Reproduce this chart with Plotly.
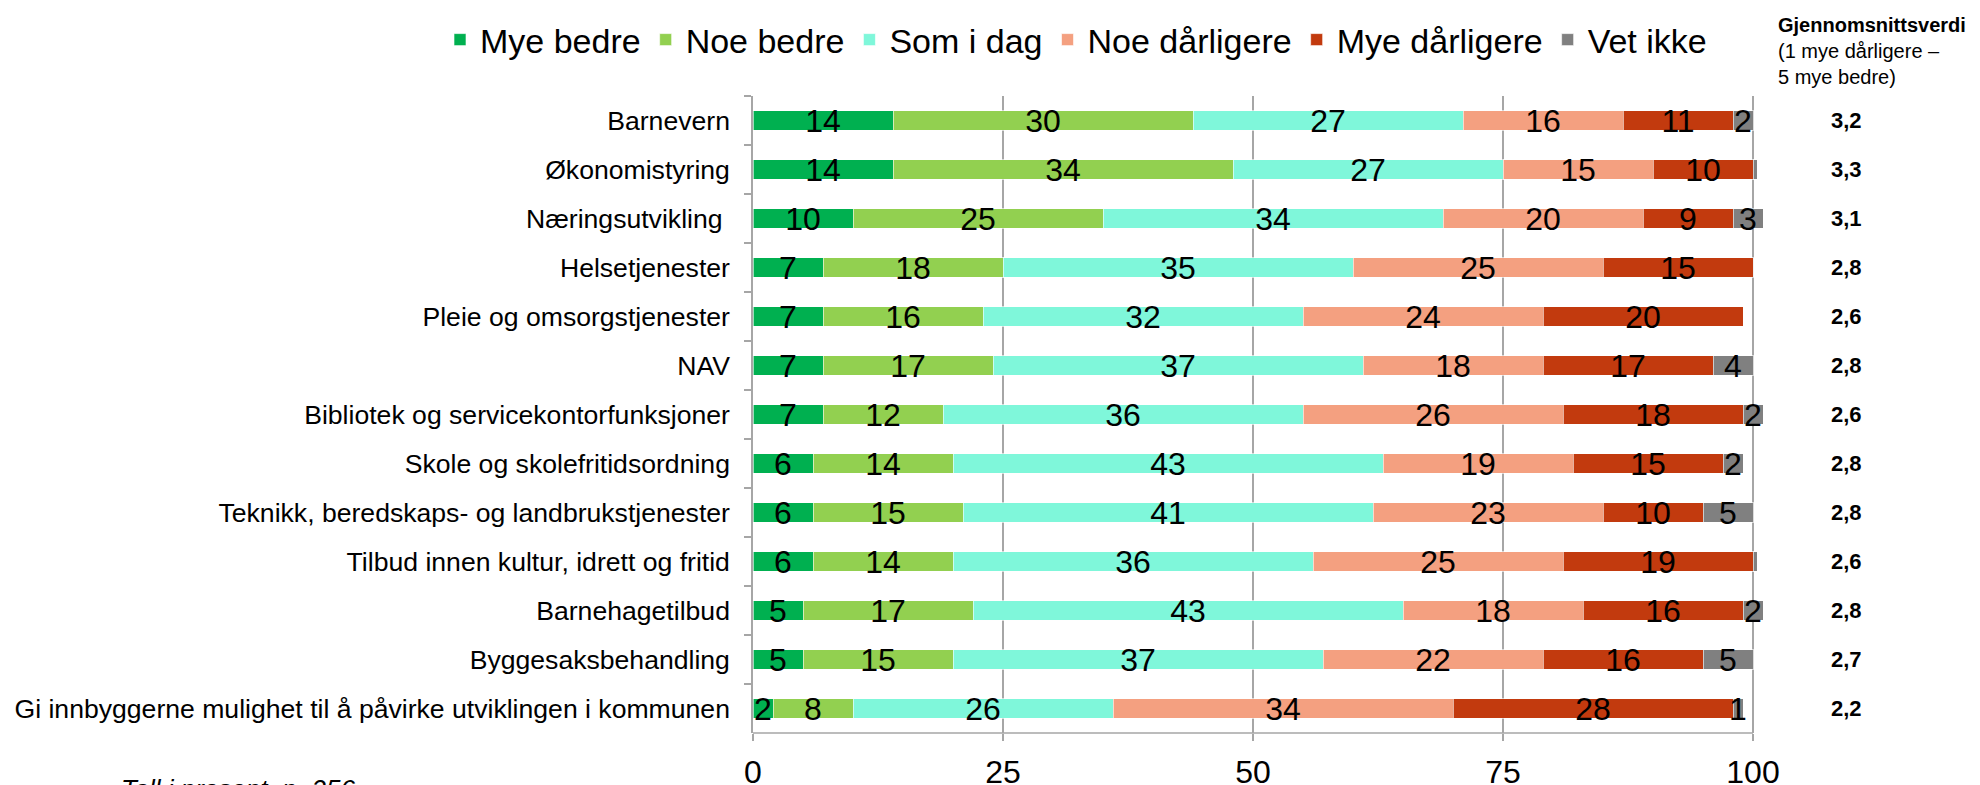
import plotly.graph_objects as go

categories = [
    "Barnevern",
    "Økonomistyring",
    "Næringsutvikling\u00a0",
    "Helsetjenester",
    "Pleie og omsorgstjenester",
    "NAV",
    "Bibliotek og servicekontorfunksjoner",
    "Skole og skolefritidsordning",
    "Teknikk, beredskaps- og landbrukstjenester",
    "Tilbud innen kultur, idrett og fritid",
    "Barnehagetilbud",
    "Byggesaksbehandling",
    "Gi innbyggerne mulighet til å påvirke utviklingen i kommunen",
]

mye_bedre = [14, 14, 10, 7, 7, 7, 7, 6, 6, 6, 5, 5, 2]
noe_bedre = [30, 34, 25, 18, 16, 17, 12, 14, 15, 14, 17, 15, 8]
som_i_dag = [27, 27, 34, 35, 32, 37, 36, 43, 41, 36, 43, 37, 26]
noe_darligere = [16, 15, 20, 25, 24, 18, 26, 19, 23, 25, 18, 22, 34]
mye_darligere = [11, 10, 9, 15, 20, 17, 18, 15, 10, 19, 16, 16, 28]
vet_ikke = [2, 0.4, 3, 0, 0, 4, 2, 2, 5, 0.4, 2, 5, 1]

snitt = ["3,2", "3,3", "3,1", "2,8", "2,6", "2,8", "2,6", "2,8", "2,8", "2,6", "2,8", "2,7", "2,2"]

x_ticks = [0, 25, 50, 75, 100]

series = [
    ("Mye bedre", mye_bedre, "#00B050"),
    ("Noe bedre", noe_bedre, "#92D050"),
    ("Som i dag", som_i_dag, "#7FF7DA"),
    ("Noe dårligere", noe_darligere, "#F4A080"),
    ("Mye dårligere", mye_darligere, "#C23A0E"),
    ("Vet ikke", vet_ikke, "#808080"),
]

FONT = "Liberation Sans, Arial, sans-serif"

# page offset of the figure (body margin)
OFF = 8
W, H = 1980, 785
XMAX = 101.2
L = 753 - OFF          # x=0 in figure px
PW = 1000 * XMAX / 100  # plot width px
R = L + PW
T = 96 - OFF
B = 733 - OFF


def pgx(p):
    return (p - OFF - L) / PW


def pgy(p):
    return (B - (p - OFF)) / (B - T)


fig = go.Figure()
for name, vals, col in series:
    fig.add_trace(go.Bar(
        name=name,
        y=categories,
        x=vals,
        orientation="h",
        marker=dict(color=col, line=dict(color="rgba(255,255,255,0.6)", width=1)),
        text=[str(int(v)) if v >= 1 else "" for v in vals],
        textposition="inside",
        insidetextanchor="middle",
        textangle=0,
        textfont=dict(family=FONT, size=32, color="black"),
        constraintext="none",
        cliponaxis=False,
        hoverinfo="skip",
    ))

annotations = []
for cat, s in zip(categories, snitt):
    annotations.append(dict(
        x=pgx(1846), xref="paper", y=cat, yref="y",
        text=f"<b>{s}</b>", showarrow=False, xanchor="center", yanchor="middle",
        font=dict(family=FONT, size=22, color="black"),
    ))

annotations.append(dict(
    x=pgx(1776), xref="paper", y=pgy(12), yref="paper",
    text="<b>Gjennomsnittsverdi</b><br>(1 mye dårligere –<br>5 mye bedre)",
    showarrow=False, xanchor="left", yanchor="top", align="left",
    font=dict(family=FONT, size=20, color="black"),
))

annotations.append(dict(
    x=pgx(119), xref="paper", y=pgy(772), yref="paper",
    text="<i>Tall i prosent, n=256</i>",
    showarrow=False, xanchor="left", yanchor="top", align="left",
    font=dict(family=FONT, size=26, color="black"),
))

fig.update_layout(
    barmode="stack",
    bargap=0.6,
    width=W, height=H,
    margin=dict(l=L, r=W - R, t=T, b=H - B, autoexpand=False),
    paper_bgcolor="white",
    plot_bgcolor="white",
    font=dict(family=FONT, color="black"),
    uniformtext=dict(minsize=32, mode="show"),
    showlegend=True,
    legend=dict(
        orientation="h",
        x=pgx(440), xanchor="left",
        y=pgy(40), yanchor="middle",
        font=dict(family=FONT, size=34, color="black"),
        traceorder="normal",
        itemclick=False,
        tracegroupgap=0,
    ),
    annotations=annotations,
    shapes=[dict(type="line", xref="x", yref="paper", x0=0, x1=100, y0=0, y1=0,
                 line=dict(color="#A6A6A6", width=1.5))],
)

fig.update_xaxes(
    range=[0, XMAX],
    tickvals=x_ticks,
    showgrid=True, gridcolor="#A6A6A6", gridwidth=1.5,
    zeroline=False,
    showline=False,
    ticks="outside", ticklen=7, tickcolor="#A6A6A6", tickwidth=1.5,
    tickfont=dict(family=FONT, size=32, color="black"),
    ticklabelstandoff=4,
)

fig.update_yaxes(
    autorange="reversed",
    showgrid=False,
    showline=True, linecolor="#A6A6A6", linewidth=1.5,
    ticks="outside", ticklen=7, tickcolor="#A6A6A6", tickwidth=1.5,
    tickson="boundaries",
    tickfont=dict(family=FONT, size=26.6, color="black"),
    ticklabelstandoff=16,
)

fig.write_html("out.html")
